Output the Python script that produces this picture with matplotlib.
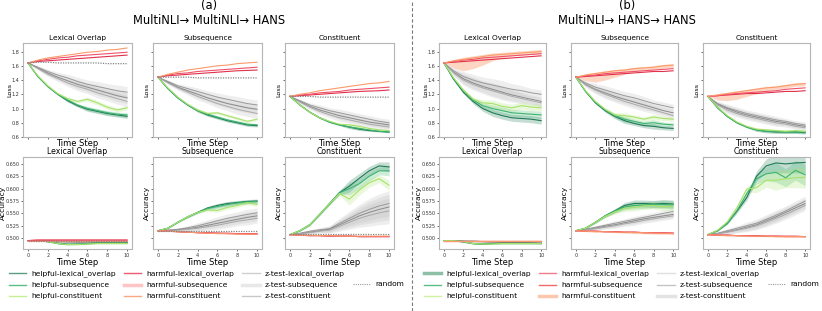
import numpy as np
import matplotlib
matplotlib.use("Agg")
import matplotlib.pyplot as plt
from matplotlib.lines import Line2D

steps = list(range(11))
tasks = ["Lexical Overlap", "Subsequence", "Constituent"]
panel_titles = ["(a)\nMultiNLI\u2192 MultiNLI\u2192 HANS", "(b)\nMultiNLI\u2192 HANS\u2192 HANS"]
loss_ticks = [0.6, 0.8, 1.0, 1.2, 1.4, 1.6, 1.8]
acc_ticks = [0.500, 0.525, 0.550, 0.575, 0.600, 0.625, 0.650]
legend_labels = ["helpful-lexical_overlap", "helpful-subsequence", "helpful-constituent",
                 "harmful-lexical_overlap", "harmful-subsequence", "harmful-constituent",
                 "z-test-lexical_overlap", "z-test-subsequence", "z-test-constituent", "random"]

# ---------------- (a) loss
a_loss_lex_helpful = [[1.64, 1.45, 1.31, 1.20, 1.11, 1.04, 0.99, 0.96, 0.93, 0.91, 0.89],
                      [1.64, 1.45, 1.31, 1.20, 1.12, 1.05, 1.00, 0.97, 0.94, 0.92, 0.91],
                      [1.64, 1.46, 1.32, 1.21, 1.14, 1.10, 1.13, 1.08, 1.02, 0.98, 1.01]]
a_loss_lex_harmful = [[1.64, 1.66, 1.67, 1.68, 1.69, 1.70, 1.71, 1.72, 1.73, 1.74, 1.75],
                      [1.64, 1.67, 1.69, 1.71, 1.72, 1.74, 1.75, 1.76, 1.77, 1.78, 1.79],
                      [1.64, 1.68, 1.71, 1.73, 1.75, 1.77, 1.79, 1.80, 1.82, 1.83, 1.85]]
a_loss_lex_ztest = [[1.64, 1.58, 1.52, 1.47, 1.43, 1.38, 1.34, 1.31, 1.28, 1.25, 1.23],
                    [1.64, 1.57, 1.50, 1.44, 1.39, 1.34, 1.30, 1.26, 1.22, 1.18, 1.15],
                    [1.64, 1.56, 1.48, 1.42, 1.36, 1.31, 1.27, 1.22, 1.18, 1.14, 1.10]]
a_loss_lex_random = [1.64, 1.65, 1.65, 1.64, 1.64, 1.64, 1.64, 1.64, 1.63, 1.63, 1.63]
a_loss_lex_zband = [0.0, 0.02, 0.03, 0.04, 0.05, 0.06, 0.06, 0.07, 0.07, 0.08, 0.08]
a_loss_lex_hband = [0.0, 0.01, 0.01, 0.01, 0.02, 0.02, 0.03, 0.03, 0.03, 0.03, 0.03]

a_loss_sub_helpful = [[1.44, 1.28, 1.15, 1.05, 0.97, 0.91, 0.87, 0.83, 0.80, 0.77, 0.76],
                      [1.44, 1.28, 1.15, 1.05, 0.97, 0.92, 0.88, 0.84, 0.81, 0.78, 0.77],
                      [1.44, 1.29, 1.16, 1.06, 0.98, 0.93, 0.94, 0.90, 0.86, 0.82, 0.85]]
a_loss_sub_harmful = [[1.44, 1.46, 1.47, 1.48, 1.49, 1.50, 1.51, 1.52, 1.53, 1.535, 1.54],
                      [1.44, 1.47, 1.49, 1.50, 1.52, 1.53, 1.54, 1.55, 1.56, 1.57, 1.58],
                      [1.44, 1.48, 1.51, 1.54, 1.56, 1.58, 1.60, 1.61, 1.63, 1.64, 1.65]]
a_loss_sub_ztest = [[1.44, 1.38, 1.32, 1.28, 1.24, 1.20, 1.16, 1.13, 1.10, 1.07, 1.05],
                    [1.44, 1.37, 1.30, 1.25, 1.20, 1.15, 1.11, 1.07, 1.04, 1.01, 0.99],
                    [1.44, 1.36, 1.29, 1.23, 1.17, 1.12, 1.07, 1.03, 0.99, 0.96, 0.93]]
a_loss_sub_random = [1.44, 1.44, 1.44, 1.44, 1.43, 1.43, 1.43, 1.43, 1.43, 1.43, 1.43]
a_loss_sub_zband = [0.0, 0.02, 0.03, 0.04, 0.05, 0.05, 0.06, 0.06, 0.07, 0.07, 0.07]
a_loss_sub_hband = [0.0, 0.01, 0.01, 0.01, 0.02, 0.02, 0.02, 0.02, 0.02, 0.02, 0.02]

a_loss_con_helpful = [[1.17, 1.05, 0.95, 0.87, 0.81, 0.77, 0.74, 0.71, 0.69, 0.68, 0.67],
                      [1.17, 1.05, 0.95, 0.87, 0.81, 0.77, 0.74, 0.72, 0.70, 0.68, 0.67],
                      [1.17, 1.05, 0.95, 0.87, 0.82, 0.78, 0.77, 0.75, 0.72, 0.70, 0.69]]
a_loss_con_harmful = [[1.17, 1.18, 1.19, 1.20, 1.21, 1.22, 1.23, 1.24, 1.245, 1.25, 1.26],
                      [1.17, 1.19, 1.20, 1.22, 1.23, 1.24, 1.26, 1.27, 1.28, 1.29, 1.30],
                      [1.17, 1.20, 1.22, 1.25, 1.27, 1.29, 1.31, 1.33, 1.35, 1.36, 1.38]]
a_loss_con_ztest = [[1.17, 1.11, 1.05, 1.01, 0.97, 0.94, 0.91, 0.88, 0.85, 0.82, 0.80],
                    [1.17, 1.10, 1.03, 0.98, 0.94, 0.90, 0.87, 0.84, 0.81, 0.79, 0.77],
                    [1.17, 1.09, 1.02, 0.96, 0.91, 0.87, 0.84, 0.81, 0.78, 0.76, 0.74]]
a_loss_con_random = [1.17, 1.17, 1.17, 1.16, 1.16, 1.16, 1.16, 1.16, 1.16, 1.16, 1.16]
a_loss_con_zband = [0.0, 0.02, 0.03, 0.04, 0.04, 0.05, 0.05, 0.05, 0.05, 0.05, 0.05]
a_loss_con_hband = [0.0, 0.01, 0.01, 0.01, 0.01, 0.01, 0.02, 0.02, 0.01, 0.01, 0.01]

# ---------------- (b) loss
b_loss_lex_helpful = [[1.64, 1.41, 1.23, 1.10, 1.00, 0.94, 0.90, 0.87, 0.86, 0.85, 0.83],
                      [1.64, 1.42, 1.25, 1.12, 1.04, 1.00, 0.97, 0.94, 0.93, 0.92, 0.91],
                      [1.64, 1.43, 1.26, 1.13, 1.08, 1.07, 1.03, 1.01, 1.04, 1.02, 1.01]]
b_loss_lex_harmful = [[1.64, 1.65, 1.66, 1.67, 1.68, 1.69, 1.70, 1.71, 1.72, 1.73, 1.74],
                      [1.64, 1.66, 1.68, 1.69, 1.71, 1.72, 1.73, 1.74, 1.75, 1.76, 1.77],
                      [1.64, 1.67, 1.69, 1.71, 1.73, 1.75, 1.76, 1.77, 1.78, 1.79, 1.80]]
b_loss_lex_ztest = [[1.64, 1.53, 1.45, 1.40, 1.36, 1.33, 1.30, 1.27, 1.25, 1.22, 1.20],
                    [1.64, 1.51, 1.42, 1.36, 1.31, 1.27, 1.23, 1.19, 1.16, 1.13, 1.10],
                    [1.64, 1.50, 1.40, 1.34, 1.29, 1.25, 1.21, 1.17, 1.14, 1.11, 1.08]]
b_loss_lex_zband = [0.0, 0.04, 0.07, 0.08, 0.08, 0.09, 0.09, 0.08, 0.07, 0.06, 0.06]
b_loss_lex_hband = [0.0, 0.01, 0.02, 0.03, 0.04, 0.05, 0.05, 0.05, 0.05, 0.05, 0.05]
b_loss_lex_rband_lo = [0.0, 0.10, 0.16, 0.15, 0.12, 0.08, 0.05, 0.03, 0.03, 0.03, 0.03]
b_loss_lex_rband_hi = [0.0, 0.02, 0.03, 0.03, 0.03, 0.03, 0.03, 0.03, 0.03, 0.03, 0.03]

b_loss_sub_helpful = [[1.44, 1.24, 1.08, 0.97, 0.89, 0.83, 0.79, 0.76, 0.75, 0.73, 0.72],
                      [1.44, 1.24, 1.09, 0.98, 0.90, 0.85, 0.82, 0.79, 0.80, 0.78, 0.77],
                      [1.44, 1.25, 1.10, 0.99, 0.91, 0.90, 0.88, 0.85, 0.88, 0.86, 0.85]]
b_loss_sub_harmful = [[1.44, 1.45, 1.46, 1.47, 1.48, 1.49, 1.50, 1.51, 1.52, 1.52, 1.53],
                      [1.44, 1.46, 1.47, 1.49, 1.50, 1.51, 1.52, 1.53, 1.54, 1.55, 1.56],
                      [1.44, 1.47, 1.49, 1.51, 1.53, 1.54, 1.56, 1.57, 1.58, 1.60, 1.61]]
b_loss_sub_ztest = [[1.44, 1.36, 1.30, 1.26, 1.22, 1.18, 1.15, 1.11, 1.07, 1.04, 1.01],
                    [1.44, 1.34, 1.27, 1.22, 1.17, 1.13, 1.09, 1.05, 1.01, 0.97, 0.94],
                    [1.44, 1.33, 1.26, 1.20, 1.15, 1.10, 1.06, 1.02, 0.98, 0.94, 0.90]]
b_loss_sub_zband = [0.0, 0.03, 0.05, 0.06, 0.06, 0.06, 0.06, 0.06, 0.05, 0.05, 0.05]
b_loss_sub_hband = [0.0, 0.01, 0.01, 0.02, 0.03, 0.04, 0.03, 0.03, 0.04, 0.03, 0.03]
b_loss_sub_rband_lo = [0.0, 0.08, 0.12, 0.11, 0.09, 0.06, 0.04, 0.03, 0.03, 0.03, 0.03]
b_loss_sub_rband_hi = [0.0, 0.02, 0.02, 0.02, 0.02, 0.02, 0.02, 0.02, 0.02, 0.02, 0.02]

b_loss_con_helpful = [[1.17, 1.01, 0.89, 0.80, 0.74, 0.70, 0.68, 0.67, 0.67, 0.67, 0.66],
                      [1.17, 1.01, 0.89, 0.80, 0.74, 0.70, 0.68, 0.68, 0.67, 0.67, 0.67],
                      [1.17, 1.02, 0.90, 0.81, 0.75, 0.71, 0.70, 0.69, 0.68, 0.69, 0.68]]
b_loss_con_harmful = [[1.17, 1.18, 1.19, 1.20, 1.21, 1.21, 1.22, 1.23, 1.24, 1.24, 1.25],
                      [1.17, 1.18, 1.20, 1.21, 1.22, 1.23, 1.24, 1.25, 1.27, 1.28, 1.29],
                      [1.17, 1.19, 1.21, 1.23, 1.25, 1.27, 1.29, 1.30, 1.32, 1.34, 1.35]]
b_loss_con_ztest = [[1.17, 1.07, 1.01, 0.97, 0.93, 0.90, 0.87, 0.84, 0.82, 0.79, 0.77],
                    [1.17, 1.06, 1.00, 0.95, 0.91, 0.88, 0.85, 0.82, 0.80, 0.77, 0.75],
                    [1.17, 1.05, 0.98, 0.93, 0.89, 0.86, 0.83, 0.80, 0.78, 0.75, 0.73]]
b_loss_con_zband = [0.0, 0.03, 0.05, 0.05, 0.05, 0.05, 0.05, 0.05, 0.04, 0.04, 0.04]
b_loss_con_hband = [0.0, 0.01, 0.01, 0.01, 0.01, 0.02, 0.02, 0.02, 0.02, 0.02, 0.02]
b_loss_con_rband_lo = [0.0, 0.07, 0.10, 0.10, 0.08, 0.06, 0.04, 0.03, 0.03, 0.03, 0.03]
b_loss_con_rband_hi = [0.0, 0.02, 0.02, 0.02, 0.02, 0.02, 0.02, 0.02, 0.02, 0.02, 0.02]

# ---------------- (a) accuracy
a_acc_lex_helpful = [[0.495, 0.495, 0.493, 0.490, 0.488, 0.488, 0.489, 0.490, 0.490, 0.490, 0.490],
                     [0.495, 0.495, 0.493, 0.489, 0.487, 0.488, 0.489, 0.490, 0.490, 0.490, 0.490],
                     [0.495, 0.495, 0.493, 0.489, 0.487, 0.487, 0.488, 0.489, 0.489, 0.489, 0.489]]
a_acc_lex_harmful = [[0.495, 0.496, 0.496, 0.496, 0.496, 0.496, 0.496, 0.496, 0.496, 0.496, 0.496],
                     [0.495, 0.496, 0.496, 0.496, 0.496, 0.496, 0.496, 0.496, 0.496, 0.496, 0.496],
                     [0.495, 0.495, 0.495, 0.495, 0.495, 0.495, 0.495, 0.495, 0.495, 0.495, 0.495]]
a_acc_lex_ztest = [[0.495, 0.495, 0.494, 0.493, 0.492, 0.492, 0.492, 0.492, 0.492, 0.492, 0.492],
                   [0.495, 0.495, 0.494, 0.493, 0.493, 0.492, 0.492, 0.492, 0.492, 0.492, 0.492],
                   [0.495, 0.495, 0.494, 0.494, 0.493, 0.493, 0.493, 0.493, 0.493, 0.493, 0.493]]
a_acc_lex_random = [0.495, 0.495, 0.495, 0.495, 0.495, 0.495, 0.495, 0.495, 0.495, 0.495, 0.495]
a_acc_lex_zband = [0.0, 0.001, 0.001, 0.001, 0.001, 0.001, 0.001, 0.001, 0.001, 0.001, 0.001]
a_acc_lex_hband = [0.0, 0.0, 0.001, 0.001, 0.001, 0.001, 0.001, 0.001, 0.001, 0.001, 0.001]

a_acc_sub_helpful = [[0.515, 0.520, 0.532, 0.543, 0.552, 0.561, 0.566, 0.570, 0.572, 0.574, 0.575],
                     [0.515, 0.520, 0.532, 0.543, 0.552, 0.560, 0.564, 0.568, 0.571, 0.573, 0.574],
                     [0.515, 0.520, 0.532, 0.543, 0.552, 0.557, 0.556, 0.562, 0.566, 0.572, 0.568]]
a_acc_sub_harmful = [[0.515, 0.514, 0.513, 0.512, 0.511, 0.511, 0.510, 0.510, 0.509, 0.509, 0.509],
                     [0.515, 0.514, 0.513, 0.512, 0.511, 0.510, 0.510, 0.509, 0.509, 0.508, 0.508],
                     [0.515, 0.514, 0.513, 0.512, 0.511, 0.510, 0.509, 0.509, 0.508, 0.508, 0.508]]
a_acc_sub_ztest = [[0.515, 0.516, 0.518, 0.521, 0.525, 0.530, 0.535, 0.540, 0.544, 0.548, 0.551],
                   [0.515, 0.516, 0.517, 0.519, 0.522, 0.526, 0.530, 0.534, 0.538, 0.542, 0.545],
                   [0.515, 0.515, 0.516, 0.518, 0.520, 0.523, 0.526, 0.530, 0.534, 0.537, 0.540]]
a_acc_sub_random = [0.515, 0.515, 0.515, 0.515, 0.515, 0.515, 0.515, 0.515, 0.515, 0.515, 0.515]
a_acc_sub_zband = [0.0, 0.001, 0.002, 0.004, 0.006, 0.007, 0.008, 0.009, 0.009, 0.010, 0.010]
a_acc_sub_hband = [0.0, 0.001, 0.001, 0.002, 0.002, 0.003, 0.004, 0.004, 0.004, 0.004, 0.004]

a_acc_con_helpful = [[0.507, 0.515, 0.527, 0.548, 0.570, 0.592, 0.605, 0.621, 0.636, 0.646, 0.644],
                     [0.507, 0.515, 0.527, 0.548, 0.570, 0.592, 0.600, 0.610, 0.625, 0.636, 0.636],
                     [0.507, 0.515, 0.527, 0.548, 0.570, 0.590, 0.579, 0.597, 0.612, 0.620, 0.607]]
a_acc_con_harmful = [[0.507, 0.506, 0.505, 0.505, 0.504, 0.504, 0.504, 0.503, 0.503, 0.503, 0.503],
                     [0.507, 0.506, 0.505, 0.505, 0.504, 0.504, 0.504, 0.503, 0.503, 0.503, 0.503],
                     [0.507, 0.506, 0.506, 0.505, 0.505, 0.504, 0.504, 0.504, 0.504, 0.504, 0.504]]
a_acc_con_ztest = [[0.507, 0.510, 0.514, 0.517, 0.519, 0.530, 0.540, 0.550, 0.558, 0.565, 0.570],
                   [0.507, 0.509, 0.512, 0.515, 0.518, 0.527, 0.536, 0.545, 0.552, 0.558, 0.563],
                   [0.507, 0.509, 0.511, 0.514, 0.516, 0.524, 0.532, 0.540, 0.546, 0.551, 0.555]]
a_acc_con_random = [0.508, 0.508, 0.508, 0.508, 0.508, 0.508, 0.508, 0.508, 0.508, 0.508, 0.508]
a_acc_con_zband = [0.0, 0.002, 0.003, 0.004, 0.006, 0.010, 0.014, 0.018, 0.022, 0.024, 0.026]
a_acc_con_hband = [0.0, 0.001, 0.002, 0.002, 0.003, 0.004, 0.012, 0.010, 0.009, 0.008, 0.010]

# ---------------- (b) accuracy
b_acc_lex_helpful = [[0.495, 0.495, 0.493, 0.489, 0.488, 0.489, 0.490, 0.490, 0.490, 0.490, 0.489],
                     [0.495, 0.495, 0.492, 0.489, 0.488, 0.489, 0.489, 0.489, 0.489, 0.489, 0.489],
                     [0.495, 0.495, 0.493, 0.489, 0.488, 0.488, 0.489, 0.489, 0.489, 0.489, 0.489]]
b_acc_lex_harmful = [[0.495, 0.495, 0.495, 0.495, 0.495, 0.495, 0.495, 0.495, 0.495, 0.495, 0.495],
                     [0.495, 0.495, 0.495, 0.495, 0.495, 0.495, 0.495, 0.495, 0.495, 0.495, 0.495],
                     [0.495, 0.495, 0.495, 0.495, 0.495, 0.495, 0.495, 0.495, 0.495, 0.495, 0.495]]
b_acc_lex_ztest = [[0.495, 0.495, 0.494, 0.494, 0.493, 0.492, 0.492, 0.491, 0.491, 0.491, 0.491],
                   [0.495, 0.495, 0.494, 0.493, 0.493, 0.492, 0.492, 0.491, 0.491, 0.491, 0.490],
                   [0.495, 0.495, 0.494, 0.494, 0.493, 0.493, 0.492, 0.492, 0.492, 0.491, 0.491]]
b_acc_lex_zband = [0.0, 0.001, 0.001, 0.001, 0.001, 0.001, 0.001, 0.001, 0.001, 0.001, 0.001]
b_acc_lex_hband = [0.0, 0.0, 0.001, 0.001, 0.001, 0.001, 0.001, 0.001, 0.001, 0.001, 0.001]
b_acc_lex_rband_lo = [0.0, 0.001, 0.001, 0.001, 0.001, 0.001, 0.001, 0.001, 0.001, 0.001, 0.001]
b_acc_lex_rband_hi = [0.0, 0.001, 0.001, 0.001, 0.001, 0.001, 0.001, 0.001, 0.001, 0.001, 0.001]

b_acc_sub_helpful = [[0.515, 0.520, 0.532, 0.545, 0.555, 0.566, 0.570, 0.570, 0.569, 0.570, 0.569],
                     [0.515, 0.520, 0.532, 0.545, 0.555, 0.563, 0.566, 0.567, 0.568, 0.568, 0.567],
                     [0.515, 0.520, 0.532, 0.544, 0.553, 0.560, 0.562, 0.565, 0.566, 0.563, 0.565]]
b_acc_sub_harmful = [[0.515, 0.514, 0.514, 0.513, 0.513, 0.512, 0.512, 0.511, 0.511, 0.511, 0.510],
                     [0.515, 0.514, 0.514, 0.513, 0.513, 0.512, 0.512, 0.511, 0.511, 0.510, 0.510],
                     [0.515, 0.514, 0.513, 0.513, 0.512, 0.512, 0.511, 0.511, 0.510, 0.510, 0.509]]
b_acc_sub_ztest = [[0.515, 0.518, 0.522, 0.526, 0.530, 0.534, 0.538, 0.542, 0.546, 0.550, 0.554],
                   [0.515, 0.517, 0.520, 0.524, 0.527, 0.531, 0.535, 0.539, 0.542, 0.545, 0.548],
                   [0.515, 0.517, 0.519, 0.522, 0.525, 0.529, 0.532, 0.536, 0.539, 0.542, 0.545]]
b_acc_sub_zband = [0.0, 0.002, 0.003, 0.004, 0.005, 0.005, 0.006, 0.006, 0.006, 0.006, 0.006]
b_acc_sub_hband = [0.0, 0.001, 0.002, 0.003, 0.004, 0.006, 0.007, 0.007, 0.007, 0.008, 0.008]
b_acc_sub_rband_lo = [0.0, 0.001, 0.001, 0.001, 0.001, 0.002, 0.002, 0.002, 0.002, 0.002, 0.002]
b_acc_sub_rband_hi = [0.0, 0.001, 0.001, 0.001, 0.001, 0.001, 0.001, 0.001, 0.001, 0.001, 0.001]

b_acc_con_helpful = [[0.507, 0.515, 0.530, 0.555, 0.582, 0.625, 0.646, 0.652, 0.650, 0.652, 0.653],
                     [0.507, 0.515, 0.530, 0.556, 0.590, 0.620, 0.630, 0.633, 0.622, 0.637, 0.628],
                     [0.507, 0.516, 0.533, 0.562, 0.599, 0.602, 0.617, 0.617, 0.620, 0.622, 0.623]]
b_acc_con_harmful = [[0.507, 0.506, 0.506, 0.505, 0.505, 0.505, 0.504, 0.504, 0.504, 0.504, 0.503],
                     [0.507, 0.506, 0.506, 0.505, 0.505, 0.504, 0.504, 0.504, 0.503, 0.503, 0.503],
                     [0.507, 0.506, 0.505, 0.505, 0.504, 0.504, 0.504, 0.503, 0.503, 0.503, 0.503]]
b_acc_con_ztest = [[0.507, 0.510, 0.515, 0.520, 0.525, 0.530, 0.538, 0.546, 0.555, 0.565, 0.575],
                   [0.507, 0.509, 0.513, 0.517, 0.522, 0.527, 0.535, 0.543, 0.552, 0.561, 0.570],
                   [0.507, 0.509, 0.512, 0.516, 0.520, 0.525, 0.532, 0.540, 0.548, 0.557, 0.566]]
b_acc_con_zband = [0.0, 0.002, 0.004, 0.005, 0.007, 0.008, 0.009, 0.010, 0.010, 0.010, 0.010]
b_acc_con_hband = [0.0, 0.001, 0.002, 0.004, 0.006, 0.010, 0.014, 0.020, 0.018, 0.020, 0.022]
b_acc_con_rband_lo = [0.0, 0.001, 0.001, 0.001, 0.001, 0.001, 0.001, 0.001, 0.001, 0.001, 0.001]
b_acc_con_rband_hi = [0.0, 0.001, 0.001, 0.001, 0.001, 0.001, 0.001, 0.001, 0.001, 0.001, 0.001]

# ---------------- styling
HELP_COLORS = ["#1f7a55", "#3cb46e", "#a8e26c"]
HARM_COLORS = ["#e0304a", "#f0506a", "#fb9a6a"]
Z_COLORS = ["#9a9a9a", "#8a8a8a", "#a8a8a8"]
RAND_COLOR = "#858585"
SPINE = "#b5b5b5"

W, H = 822, 311
plt.rcParams['font.family'] = ['DejaVu Sans']
fig = plt.figure(figsize=(W / 100, H / 100), dpi=100)

lefts = [[23, 153, 285], [439, 571, 703]]
widths = [109, 107]
tops = [43, 157]
heights = [94, 92]

data = {
    ("a", "loss"): [
        (a_loss_lex_helpful, a_loss_lex_harmful, a_loss_lex_ztest, a_loss_lex_random, a_loss_lex_zband, a_loss_lex_hband, None, None),
        (a_loss_sub_helpful, a_loss_sub_harmful, a_loss_sub_ztest, a_loss_sub_random, a_loss_sub_zband, a_loss_sub_hband, None, None),
        (a_loss_con_helpful, a_loss_con_harmful, a_loss_con_ztest, a_loss_con_random, a_loss_con_zband, a_loss_con_hband, None, None)],
    ("b", "loss"): [
        (b_loss_lex_helpful, b_loss_lex_harmful, b_loss_lex_ztest, None, b_loss_lex_zband, b_loss_lex_hband, b_loss_lex_rband_lo, b_loss_lex_rband_hi),
        (b_loss_sub_helpful, b_loss_sub_harmful, b_loss_sub_ztest, None, b_loss_sub_zband, b_loss_sub_hband, b_loss_sub_rband_lo, b_loss_sub_rband_hi),
        (b_loss_con_helpful, b_loss_con_harmful, b_loss_con_ztest, None, b_loss_con_zband, b_loss_con_hband, b_loss_con_rband_lo, b_loss_con_rband_hi)],
    ("a", "acc"): [
        (a_acc_lex_helpful, a_acc_lex_harmful, a_acc_lex_ztest, a_acc_lex_random, a_acc_lex_zband, a_acc_lex_hband, None, None),
        (a_acc_sub_helpful, a_acc_sub_harmful, a_acc_sub_ztest, a_acc_sub_random, a_acc_sub_zband, a_acc_sub_hband, None, None),
        (a_acc_con_helpful, a_acc_con_harmful, a_acc_con_ztest, a_acc_con_random, a_acc_con_zband, a_acc_con_hband, None, None)],
    ("b", "acc"): [
        (b_acc_lex_helpful, b_acc_lex_harmful, b_acc_lex_ztest, None, b_acc_lex_zband, b_acc_lex_hband, b_acc_lex_rband_lo, b_acc_lex_rband_hi),
        (b_acc_sub_helpful, b_acc_sub_harmful, b_acc_sub_ztest, None, b_acc_sub_zband, b_acc_sub_hband, b_acc_sub_rband_lo, b_acc_sub_rband_hi),
        (b_acc_con_helpful, b_acc_con_harmful, b_acc_con_ztest, None, b_acc_con_zband, b_acc_con_hband, b_acc_con_rband_lo, b_acc_con_rband_hi)],
}

x = np.array(steps)
for pi, pkey in enumerate(["a", "b"]):
    for ri, metric in enumerate(["loss", "acc"]):
        for ci in range(3):
            l = lefts[pi][ci]
            w = widths[pi]
            t = tops[ri]
            h = heights[ri]
            ax = fig.add_axes([l / W, 1 - (t + h) / H, w / W, h / H])
            helpful, harmful, ztest, rnd, zband, hband, rlo, rhi = data[(pkey, metric)][ci]
            zb = np.array(zband)
            for k in range(3):
                y = np.array(ztest[k])
                ax.fill_between(x, y - zb, y + zb, color="#b8b8b8", alpha=0.24, lw=0)
                ax.plot(x, y, color=Z_COLORS[k], lw=0.7)
            hb = np.array(hband)
            for k in range(3):
                y = np.array(helpful[k])
                ax.fill_between(x, y - hb, y + hb, color=HELP_COLORS[k], alpha=0.25, lw=0)
                ax.plot(x, y, color=HELP_COLORS[k], lw=0.8)
            for k in range(3):
                y = np.array(harmful[k])
                if rlo is not None and k == 2:
                    ax.fill_between(x, y - np.array(rlo), y + np.array(rhi),
                                    color=HARM_COLORS[k], alpha=0.4, lw=0)
                ax.plot(x, y, color=HARM_COLORS[k], lw=0.8)
            if rnd is not None:
                ax.plot(x, rnd, color=RAND_COLOR, lw=0.9, ls=(0, (1, 1)))
            ax.set_xticks([0, 2, 4, 6, 8, 10])
            if metric == "loss":
                ax.set_ylim(0.6, 1.92)
                ax.set_yticks(loss_ticks)
                ax.tick_params(labelbottom=False)
                ax.set_title(tasks[ci], fontsize=5.3, pad=2)
                ax.set_ylabel("Loss", fontsize=4.6, labelpad=1)
                ax.set_xlabel("Time Step", fontsize=6.0, labelpad=0)
            else:
                ax.set_ylim(0.478, 0.664)
                ax.set_yticks(acc_ticks)
                ax.set_yticklabels(["%.3f" % v for v in acc_ticks])
                ax.set_title(tasks[ci], fontsize=5.6, pad=2)
                ax.set_ylabel("Accuracy", fontsize=5.4, labelpad=1)
                ax.set_xlabel("Time Step", fontsize=6.0, labelpad=0)
            if ci != 0:
                ax.tick_params(labelleft=False)
            else:
                if metric == "acc":
                    ax.yaxis.set_label_coords(-0.155, 0.5)
                else:
                    ax.yaxis.set_label_coords(-0.10, 0.5)
            ax.tick_params(labelsize=3.5, length=1.5, width=0.5, pad=1.2, colors="#333333")
            for s in ax.spines.values():
                s.set_color(SPINE)
                s.set_linewidth(0.8)

# titles
fig.text(209 / W, 1 - 13 / H, panel_titles[0], ha="center", va="center", fontsize=8.3, linespacing=1.2)
fig.text(627 / W, 1 - 13 / H, panel_titles[1], ha="center", va="center", fontsize=8.3, linespacing=1.2)

# separator
fig.add_artist(Line2D([412 / W, 412 / W], [0, 1], transform=fig.transFigure, color="#777777", lw=0.8, ls=(0, (3, 2))))

# legends
blank = Line2D([], [], color="none")

def legend_handles(styles):
    return [Line2D([], [], color=c, lw=lw, ls=ls) for c, lw, ls in styles]

styles_a = [("#5a9e80", 1.0, "-"), ("#5cbf85", 1.0, "-"), ("#c4ef92", 1.0, "-"),
            ("#ee5a70", 1.0, "-"), ("#ffc4c4", 2.5, "-"), ("#f9a884", 1.0, "-"),
            ("#cfcfcf", 1.0, "-"), ("#e8e8e8", 2.5, "-"), ("#c8c8c8", 1.0, "-"),
            ("#9a9a9a", 0.8, (0, (1, 1)))]
styles_b = [("#8dbfa6", 2.5, "-"), ("#5cbf85", 1.0, "-"), ("#cdf2a2", 1.0, "-"),
            ("#f07a8a", 1.0, "-"), ("#ef6a6a", 1.0, "-"), ("#fcc8ad", 2.5, "-"),
            ("#e0e0e0", 1.0, "-"), ("#c4c4c4", 1.0, "-"), ("#e3e3e3", 2.5, "-"),
            ("#9a9a9a", 0.8, (0, (1, 1)))]

for styles, x0 in [(styles_a, 9), (styles_b, 424)]:
    hs = legend_handles(styles)
    handles = hs[0:3] + hs[3:6] + hs[6:9] + [blank, hs[9], blank]
    labels = legend_labels[0:9] + ["", legend_labels[9], ""]
    fig.legend(handles, labels, loc="upper left", bbox_to_anchor=(x0 / W, 1 - 270 / H),
               ncol=4, frameon=False, fontsize=5.4, handlelength=2.3, handletextpad=0.7,
               columnspacing=1.05, labelspacing=0.65, borderaxespad=0, borderpad=0)

fig.savefig("out.png", dpi=100)
